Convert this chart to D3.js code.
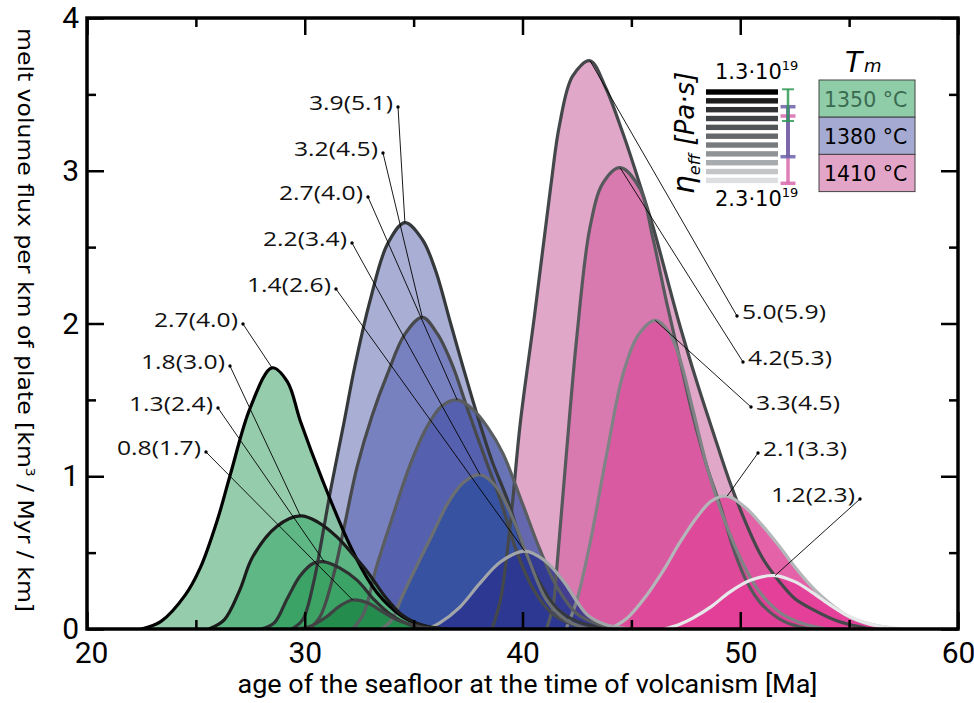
<!DOCTYPE html>
<html>
<head>
<meta charset="utf-8">
<script src="https://cdn.jsdelivr.net/npm/d3@7"></script>
<style>
  body { margin: 0; background: #fff; }
  svg { display: block; }
</style>
</head>
<body>
<script>
// Melt volume flux vs. age of the seafloor, for three mantle temperatures
// and a range of effective viscosities. Each curve: [age (Ma), flux].

const xTicks = [20, 30, 40, 50, 60];
const xMinor = [25, 35, 45, 55];
const yTicks = [0, 1, 2, 3, 4];
const yMinor = [0.5, 1.5, 2.5, 3.5];

const meltTemps = ["1350 °C", "1380 °C", "1410 °C"];
const viscTop = "1.3·10";
const viscBottom = "2.3·10";

// Tm = 1350 °C
const greenLabels = ["2.7(4.0)", "1.8(3.0)", "1.3(2.4)", "0.8(1.7)"];
const greenCurves = [
  [[22.5,0],[23.4,0.05],[24.5,0.22],[25.2,0.40],[26,0.72],[26.6,1.02],[27.5,1.45],[28.5,1.71],
   [29.2,1.62],[29.8,1.36],[30.8,0.98],[32.1,0.54],[33.1,0.28],[33.6,0.19],[34.5,0.08],[35.5,0.02],[36.5,0]],
  [[25.6,0],[26.3,0.06],[27,0.25],[27.6,0.47],[28.7,0.67],[29.8,0.74],[30.6,0.70],[31.5,0.60],
   [32.2,0.49],[32.9,0.37],[33.7,0.21],[34.4,0.10],[35.3,0.03],[36.5,0]],
  [[28,0],[28.6,0.04],[29.2,0.20],[29.8,0.35],[30.4,0.43],[30.9,0.44],[31.6,0.40],[32.4,0.32],
   [33.2,0.19],[33.9,0.10],[34.8,0.03],[36,0]],
  [[29.6,0],[30.3,0.02],[31,0.08],[31.6,0.15],[32.2,0.19],[32.9,0.17],[33.6,0.11],[34.4,0.05],
   [35.3,0.015],[36.5,0]]
];

// Tm = 1380 °C
const blueLabels = ["3.9(5.1)", "3.2(4.5)", "2.7(4.0)", "2.2(3.4)", "1.4(2.6)"];
const blueCurves = [
  [[29.4,0],[29.9,0.06],[30.4,0.30],[30.8,0.60],[31.2,0.92],[31.8,1.35],[32.3,1.72],[33,2.15],
   [33.8,2.52],[34.6,2.66],[35.4,2.55],[36,2.35],[36.7,2.0],[37.3,1.70],[37.9,1.41],[38.6,1.10],
   [39.3,0.85],[40,0.55],[40.8,0.30],[41.6,0.13],[42.5,0.05],[44,0]],
  [[30.2,0],[30.7,0.08],[31.3,0.34],[31.8,0.66],[32.4,1.06],[33.1,1.40],[33.8,1.67],[34.6,1.93],
   [35.4,2.04],[36.1,1.93],[36.8,1.72],[37.45,1.45],[38.2,1.15],[38.97,0.85],[39.7,0.52],
   [40.5,0.26],[41.3,0.11],[42.3,0.03],[43.5,0]],
  [[32.2,0],[32.7,0.10],[33.3,0.41],[34,0.72],[34.8,1.06],[35.6,1.32],[36.3,1.46],[37,1.50],
   [37.7,1.44],[38.4,1.32],[39.1,1.15],[40,0.82],[40.8,0.52],[41.6,0.27],[42.5,0.10],[43.5,0.03],[44.5,0]],
  [[33.5,0],[34,0.06],[34.4,0.19],[35.1,0.40],[35.9,0.63],[36.6,0.83],[37.3,0.96],[38.05,1.01],
   [38.8,0.93],[39.6,0.71],[40.3,0.45],[41.1,0.19],[42,0.06],[43,0]],
  [[35.6,0],[36.2,0.04],[37.1,0.14],[38.05,0.30],[39,0.44],[40.1,0.51],[41,0.45],[41.9,0.31],
   [42.5,0.18],[43,0.09],[43.8,0.03],[45,0]]
];

// Tm = 1410 °C
const pinkLabels = ["5.0(5.9)", "4.2(5.3)", "3.3(4.5)", "2.1(3.3)", "1.2(2.3)"];
const pinkCurves = [
  [[38.6,0],[39.0,0.20],[39.45,0.70],[39.9,1.35],[40.55,2.05],[41.3,2.9],[41.7,3.3],[42.3,3.62],
   [43.1,3.72],[43.8,3.55],[44.6,3.25],[45.3,2.95],[46,2.63],[47.2,2.0],[48,1.62],[48.75,1.29],
   [49.5,0.97],[50.3,0.68],[51,0.47],[51.8,0.31],[52.5,0.20],[53.3,0.13],[54.5,0.05],[56,0]],
  [[41.1,0],[41.4,0.15],[41.6,0.44],[42.0,1.12],[42.5,1.92],[43.1,2.63],[43.7,2.92],[44.48,3.02],
   [45.4,2.88],[46,2.55],[46.6,2.15],[47.2,1.78],[47.8,1.41],[48.5,1.05],[49.1,0.80],[49.7,0.52],
   [50.3,0.31],[51,0.16],[52,0.05],[53.2,0]],
  [[42,0],[42.5,0.19],[43.1,0.56],[43.9,1.17],[44.6,1.66],[45.3,1.92],[46.1,2.02],[46.7,1.95],
   [47.2,1.78],[47.8,1.45],[48.5,1.05],[49.1,0.78],[49.7,0.56],[50.3,0.38],[50.9,0.24],
   [51.8,0.11],[52.8,0.04],[54,0]],
  [[44,0],[44.8,0.07],[45.7,0.22],[46.5,0.39],[47.2,0.56],[48,0.73],[48.7,0.84],[49.4,0.87],
   [50.2,0.80],[51,0.68],[51.8,0.54],[52.6,0.39],[53.4,0.26],[54.1,0.17],[55,0.08],[56,0.03],[57.2,0]],
  [[46.5,0],[47.2,0.03],[47.8,0.07],[48.7,0.15],[49.5,0.24],[50.5,0.32],[51.6,0.35],[52.5,0.31],
   [53.3,0.24],[54.1,0.16],[54.9,0.09],[56,0.03],[57.5,0]]
];

// colours
const greenFill = ["#82c49e", "#55b37c", "#36a060", "#218a4a"];
const blueFill = ["#99a0cc", "#7079bc", "#4f5caa", "#3450a0", "#2a348e"];
const pinkFill = ["#dc98bf", "#d671aa", "#da55a0", "#df4699", "#e43d98"];
const greenStroke = ["#000000", "#1b1b1b", "#2e3032", "#404244"];
const blueStroke = ["#36393b", "#47494b", "#5a5d5f", "#6c6f71", "#a3a6a8"];
const pinkStroke = ["#45484a", "#56595b", "#808385", "#b4b7b9", "#e6e8ea"];
const viscShades = ["#000000", "#1c1c1c", "#2f3133", "#404345", "#525557", "#65686a",
                    "#787b7d", "#909395", "#a8abad", "#c3c5c7", "#dcdee0"];
const tempFill = ["#8fcca8", "#a5aad2", "#e2a5c8"];

// label anchor points (pixels): where each leader line starts
const greenDots = [[243,324],[230,366],[218,408],[206,452]];
const blueDots = [[398,107],[383,153],[368,197],[352,243],[336,289]];
const pinkDots = [[737,316],[743,362],[751,407],[758,453],[860,499]];
const pinkSides = ["right", "right", "right", "right", "left"];

// Set the dimensions and margins of the graph
const W = 974, H = 703;
const margin = { top: 18, right: 16, bottom: 74, left: 87 };

const svg = d3.select("body")
  .append("svg")
    .attr("width", W)
    .attr("height", H);

const x = d3.scaleLinear().domain([20, 60]).range([margin.left, W - margin.right]);
const y = d3.scaleLinear().domain([0, 4]).range([H - margin.bottom, margin.top]);

const smooth = d3.curveCatmullRom.alpha(0.5);
const area = d3.area()
  .x(d => x(d[0]))
  .y0(y(0))
  .y1(d => Math.min(y(0), y(d[1])))
  .curve(smooth);
const line = d3.line()
  .x(d => x(d[0]))
  .y(d => y(d[1]))
  .curve(smooth);

// drawn back to front: hottest first, then cooler ones on top
const groups = [
  { curves: pinkCurves, fills: pinkFill, strokes: pinkStroke, labels: pinkLabels, dots: pinkDots, sides: pinkSides },
  { curves: blueCurves, fills: blueFill, strokes: blueStroke, labels: blueLabels, dots: blueDots, sides: blueLabels.map(() => "left") },
  { curves: greenCurves, fills: greenFill, strokes: greenStroke, labels: greenLabels, dots: greenDots, sides: greenLabels.map(() => "left") }
];

const defs = svg.append("defs");
defs.append("clipPath").attr("id", "plotclip")
  .append("rect")
    .attr("x", x(20)).attr("y", y(4))
    .attr("width", x(60) - x(20)).attr("height", y(0) - y(4));

const plot = svg.append("g").attr("clip-path", "url(#plotclip)");

groups.forEach(g => {
  plot.append("g").selectAll("path")
    .data(g.curves).enter()
    .append("path")
      .attr("d", area)
      .attr("fill", (d, i) => g.fills[i])
      .attr("fill-opacity", 0.85);
});

groups.forEach(g => {
  plot.append("g").selectAll("path")
    .data(g.curves).enter()
    .append("path")
      .attr("d", line)
      .attr("fill", "none")
      .attr("stroke", (d, i) => g.strokes[i])
      .attr("stroke-width", 3.2)
      .attr("stroke-linejoin", "round");
});

// leader lines and labels
const notes = svg.append("g")
  .style("font-family", "'Open Sans', 'Liberation Sans', sans-serif")
  .style("font-size", "20.5px");

groups.forEach(g => {
  g.curves.forEach((c, i) => {
    const peak = c.reduce((a, b) => (b[1] > a[1] ? b : a));
    const [dx, dy] = g.dots[i];
    notes.append("line")
      .attr("x1", dx).attr("y1", dy)
      .attr("x2", x(peak[0])).attr("y2", y(peak[1]))
      .attr("stroke", "#000")
      .attr("stroke-width", 0.9);
    notes.append("circle")
      .attr("cx", dx).attr("cy", dy).attr("r", 1.7)
      .attr("fill", "#000");
    const left = g.sides[i] === "left";
    notes.append("text")
      .attr("x", left ? dx - 5 : dx + 5)
      .attr("y", dy + 2.5)
      .attr("text-anchor", left ? "end" : "start")
      .attr("textLength", 84)
      .attr("lengthAdjust", "spacingAndGlyphs")
      .attr("fill", "#111")
      .text(g.labels[i]);
  });
});

// axes, ticks inward on all four sides
function styleAxis(sel) {
  sel.select(".domain").remove();
  sel.selectAll(".tick line").attr("stroke", "#000").attr("stroke-width", 2.5);
  sel.selectAll("text")
    .style("font-family", "Roboto, 'Liberation Sans', sans-serif")
    .style("font-size", "30px")
    .attr("fill", "#000");
}

svg.append("g")
  .attr("transform", "translate(0," + y(0) + ")")
  .call(d3.axisBottom(x).tickValues(xTicks).tickSize(-17).tickPadding(13).tickFormat(d3.format("d")))
  .call(styleAxis)
  .call(g => g.select(".tick text").attr("dx", 4));
svg.append("g")
  .attr("transform", "translate(0," + y(0) + ")")
  .call(d3.axisBottom(x).tickValues(xMinor).tickSize(-9).tickFormat(""))
  .call(styleAxis);
svg.append("g")
  .attr("transform", "translate(0," + y(4) + ")")
  .call(d3.axisTop(x).tickValues(xTicks).tickSize(-17).tickFormat(""))
  .call(styleAxis);
svg.append("g")
  .attr("transform", "translate(0," + y(4) + ")")
  .call(d3.axisTop(x).tickValues(xMinor).tickSize(-9).tickFormat(""))
  .call(styleAxis);

svg.append("g")
  .attr("transform", "translate(" + x(20) + ",0)")
  .call(d3.axisLeft(y).tickValues(yTicks).tickSize(-17).tickPadding(8).tickFormat(d3.format("d")))
  .call(styleAxis);
svg.append("g")
  .attr("transform", "translate(" + x(20) + ",0)")
  .call(d3.axisLeft(y).tickValues(yMinor).tickSize(-9).tickFormat(""))
  .call(styleAxis);
svg.append("g")
  .attr("transform", "translate(" + x(60) + ",0)")
  .call(d3.axisRight(y).tickValues(yTicks).tickSize(-17).tickFormat(""))
  .call(styleAxis);
svg.append("g")
  .attr("transform", "translate(" + x(60) + ",0)")
  .call(d3.axisRight(y).tickValues(yMinor).tickSize(-9).tickFormat(""))
  .call(styleAxis);

// frame
svg.append("rect")
  .attr("x", x(20)).attr("y", y(4))
  .attr("width", x(60) - x(20)).attr("height", y(0) - y(4))
  .attr("fill", "none")
  .attr("stroke", "#000")
  .attr("stroke-width", 3.5);

// axis titles
svg.append("text")
  .attr("x", (x(20) + x(60)) / 2 + 5)
  .attr("y", 693)
  .attr("text-anchor", "middle")
  .attr("textLength", 580)
  .attr("lengthAdjust", "spacingAndGlyphs")
  .style("font-family", "Roboto, 'Liberation Sans', sans-serif")
  .style("font-size", "25px")
  .text("age of the seafloor at the time of volcanism [Ma]");

const ylab = svg.append("text")
  .attr("transform", "translate(18,320) rotate(90)")
  .attr("text-anchor", "middle")
  .attr("textLength", 584)
  .attr("lengthAdjust", "spacingAndGlyphs")
  .style("font-family", "'DejaVu Sans', Verdana, sans-serif")
  .style("font-size", "22px");
ylab.append("tspan").text("melt volume flux per km of plate [km");
ylab.append("tspan").attr("dy", -8).style("font-size", "13px").text("3");
ylab.append("tspan").attr("dy", 8).text(" / Myr / km]");

// viscosity legend
const legend = svg.append("g")
  .style("font-family", "'DejaVu Sans', Verdana, sans-serif");

legend.selectAll("rect.visc")
  .data(viscShades).enter()
  .append("rect")
    .attr("class", "visc")
    .attr("x", 706)
    .attr("y", (d, i) => 89.3 + i * 8.84)
    .attr("width", 72)
    .attr("height", 5.4)
    .attr("fill", d => d);

const ranges = [
  { top: 116, bottom: 183.3, color: "#d868aa", w: 3.5, cap: 15 },
  { top: 106.7, bottom: 156.7, color: "#6a62a8", w: 4, cap: 15 },
  { top: 89.3, bottom: 121, color: "#2f9a55", w: 2.5, cap: 12 }
];
ranges.forEach(r => {
  legend.append("line")
    .attr("x1", 788).attr("x2", 788).attr("y1", r.top).attr("y2", r.bottom)
    .attr("stroke", r.color).attr("stroke-width", r.w).attr("stroke-opacity", 0.85);
  [r.top, r.bottom].forEach(v => {
    legend.append("line")
      .attr("x1", 788 - r.cap / 2).attr("x2", 788 + r.cap / 2)
      .attr("y1", v).attr("y2", v)
      .attr("stroke", r.color).attr("stroke-width", r.w === 2.5 ? 2 : 3.5)
      .attr("stroke-opacity", 0.85);
  });
});

[[viscTop, 79], [viscBottom, 206]].forEach(([t, yy]) => {
  const tx = legend.append("text")
    .attr("x", 715).attr("y", yy)
    .style("font-size", "21px");
  tx.append("tspan").text(t);
  tx.append("tspan").attr("dy", -9).style("font-size", "13px").text("19");
});

const eta = legend.append("text")
  .attr("transform", "translate(694,133) rotate(-90)")
  .attr("text-anchor", "middle")
  .style("font-style", "italic");
eta.append("tspan").style("font-size", "30px").text("η");
eta.append("tspan").attr("dy", 6).style("font-size", "16px").text("eff");
eta.append("tspan").attr("dy", -6).style("font-size", "26px").text(" [Pa·s]");

// melt temperature legend
const tm = legend.append("text")
  .attr("x", 845).attr("y", 72)
  .style("font-style", "italic");
tm.append("tspan").style("font-size", "28px").text("T");
tm.append("tspan").attr("dx", 2).style("font-size", "18px").text("m");

legend.selectAll("rect.temp")
  .data(meltTemps).enter()
  .append("rect")
    .attr("class", "temp")
    .attr("x", 819)
    .attr("y", (d, i) => 80 + i * 37.2)
    .attr("width", 96)
    .attr("height", 37.2)
    .attr("fill", (d, i) => tempFill[i])
    .attr("stroke", "#444")
    .attr("stroke-width", 1);

legend.selectAll("text.temp")
  .data(meltTemps).enter()
  .append("text")
    .attr("class", "temp")
    .attr("x", 824)
    .attr("y", (d, i) => 107 + i * 37.2)
    .style("font-size", "20.5px")
    .attr("fill", (d, i) => (i === 0 ? "#3a6a50" : "#000"))
    .text(d => d);
</script>
</body>
</html>
